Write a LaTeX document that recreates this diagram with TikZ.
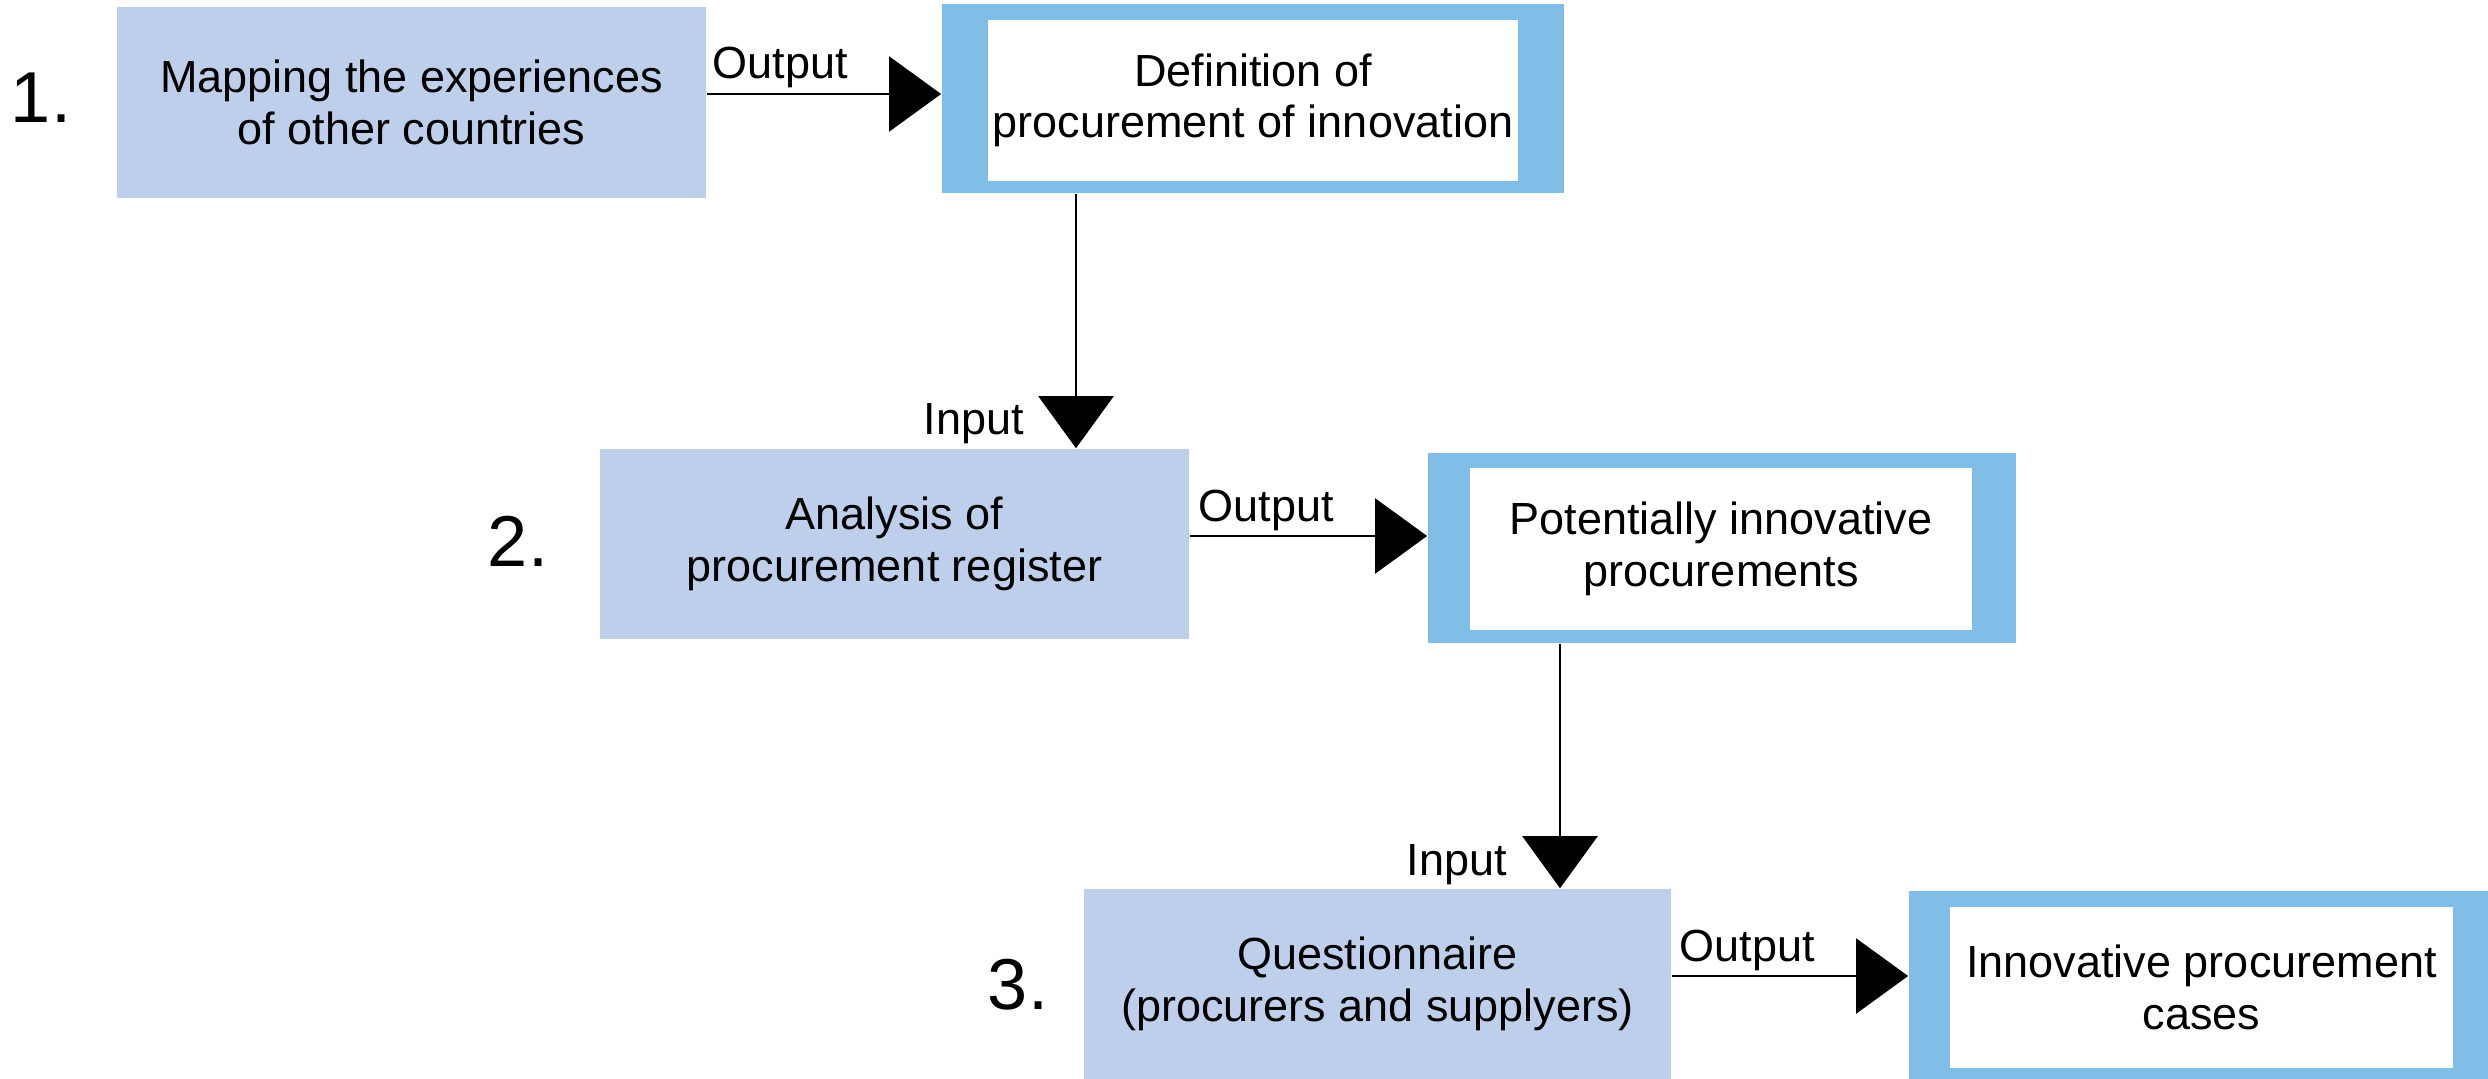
\documentclass[tikz,border=0pt]{standalone}
\usepackage{fontspec}
\setmainfont{Liberation Sans}
\usetikzlibrary{arrows.meta,calc}
\definecolor{lightbox}{RGB}{189,207,235}
\definecolor{bluebox}{RGB}{128,190,232}
\begin{document}
\begin{tikzpicture}[x=0.01cm,y=-0.01cm,
  txt/.style={font=\fontsize{12.8pt}{14.6pt}\selectfont, align=center},
  numtxt/.style={font=\fontsize{20.5pt}{24pt}\selectfont, inner sep=0},
  stagebox/.style={txt, fill=lightbox, inner sep=0, minimum width=5.88cm, minimum height=1.9cm},
  outerbox/.style={fill=bluebox, inner sep=0, minimum width=5.88cm, minimum height=1.9cm},
  innerbox/.style={txt, fill=white, inner sep=0, minimum width=5.03cm, minimum height=1.61cm},
  arr/.style={draw=black, line width=0.6pt, -{Triangle[length=0.52cm,width=0.75cm]}},
  lbl/.style={txt, inner sep=0}]
\useasboundingbox (0,0) rectangle (2488,1079);
\clip (0,0) rectangle (2488,1079);

% numbers
\node[numtxt] (n1) at (41,98) {1.};
\node[numtxt] (n2) at (518,541) {2.};
\node[numtxt] (n3) at (1018,985) {3.};

% stage 1
\node[stagebox, minimum width=5.89cm] (b1) at (411.5,102.5) {Mapping the experiences\\of other countries};
\node[outerbox, minimum width=6.22cm, minimum height=1.89cm] (d1o) at (1253,98.5) {};
\node[innerbox, minimum width=5.30cm] (d1) at (1253,100.5) {Definition of\\procurement of innovation};

% stage 2
\node[stagebox, minimum width=5.89cm] (b2) at (894.5,544) {Analysis of\\procurement register};
\node[outerbox] (d2o) at (1722,548) {};
\node[innerbox, minimum width=5.02cm] (d2) at (1721,549) {Potentially innovative\\procurements};

% stage 3
\node[stagebox, minimum width=5.87cm] (b3) at (1377.5,984) {Questionnaire\\(procurers and supplyers)};
\node[outerbox] (d3o) at (2203,986) {};
\node[innerbox] (d3) at (2201.5,987.5) {Innovative procurement\\cases};

% helper coordinates
\coordinate (h1) at (0,94);
\coordinate (h2) at (0,536);
\coordinate (h3) at (0,976);
\coordinate (v1) at (1076,0);
\coordinate (v2) at (1560,0);

% connectors
\draw[arr] (b1.east |- h1) -- (d1o.west |- h1);
\draw[arr] (d1o.south -| v1) -- (b2.north -| v1);
\draw[arr] (b2.east |- h2) -- (d2o.west |- h2);
\draw[arr] (d2o.south -| v2) -- (b3.north -| v2);
\draw[arr] (b3.east |- h3) -- (d3o.west |- h3);

% labels
\node[lbl] (o1) at (780,67) {Output};
\node[lbl] (o2) at (1266,510) {Output};
\node[lbl] (o3) at (1747,950) {Output};
\node[lbl] (i1) at (974,424) {Input};
\node[lbl] (i2) at (1457,865) {Input};
\end{tikzpicture}
\end{document}
